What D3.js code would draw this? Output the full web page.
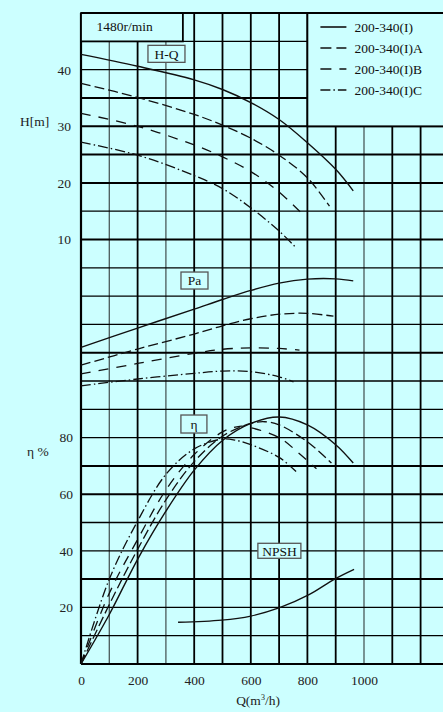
<!DOCTYPE html>
<html>
<head>
<meta charset="utf-8">
<script src="https://cdn.jsdelivr.net/npm/d3@7"></script>
<style>
  html, body { margin: 0; padding: 0; background: #ccffff; }
  svg { display: block; font-family: "Liberation Serif", "DejaVu Serif", serif; }
</style>
</head>
<body>
<div id="chart"><svg></svg></div>
<script>
// Data (Q in m3/h)
const flowTicks = [0, 200, 400, 600, 800, 1000];
const headTicks = [10, 20, 30, 40];
const effTicks = [20, 40, 60, 80];
const models = ["200-340(I)", "200-340(I)A", "200-340(I)B", "200-340(I)C"];
const speedLabel = "1480r/min";

// H-Q curves [Q, H m]
const headI = [[0, 42.7], [200, 40.6], [400, 38.2], [500, 36.5], [600, 34.2], [700, 31.2], [800, 27.1], [900, 22.4], [962, 18.6]];
const headA = [[0, 37.6], [200, 35.1], [400, 32.1], [500, 30.2], [600, 27.9], [700, 24.9], [800, 20.9], [878, 15.9]];
const headB = [[0, 32.3], [200, 30.0], [400, 26.7], [500, 24.6], [600, 22.0], [700, 18.4], [790, 14.1]];
const headC = [[0, 27.2], [200, 24.9], [400, 21.3], [500, 19.0], [600, 15.6], [700, 11.5], [755, 8.8]];

// shaft power curves [Q, Pa kW]
const powerI = [[0, 46.9], [200, 53.7], [400, 60.4], [500, 63.8], [600, 67.0], [700, 69.6], [800, 71.0], [900, 71.1], [962, 70.4]];
const powerA = [[0, 40.6], [200, 46.3], [400, 51.6], [500, 54.5], [600, 57.0], [700, 58.6], [800, 58.9], [892, 57.9]];
const powerB = [[0, 37.5], [200, 41.2], [400, 44.8], [500, 46.2], [600, 46.7], [700, 46.5], [772, 45.9]];
const powerC = [[0, 33.3], [200, 35.7], [400, 37.7], [500, 38.5], [600, 38.3], [700, 36.5], [751, 34.7]];

// efficiency curves [Q, eta %]
const effI = [[0, 0], [100, 17.5], [200, 37], [300, 54], [400, 68.5], [500, 79], [600, 85], [700, 87.3], [800, 84.5], [900, 77.5], [962, 71]];
const effA = [[0, 0], [100, 21], [200, 40.5], [300, 58], [400, 71.5], [500, 80.5], [600, 85], [650, 85.6], [700, 84.5], [800, 78.5], [885, 71]];
const effB = [[0, 0], [100, 25], [200, 44], [300, 61.5], [400, 74], [500, 82], [560, 84], [600, 83.5], [700, 80], [770, 74.5], [832, 69]];
const effC = [[0, 0], [100, 30], [200, 50.5], [300, 67], [400, 76], [500, 79.5], [550, 79], [600, 77.5], [700, 73], [760, 68]];

// NPSH curve [Q, m]
const npsh = [[343, 2.95], [497, 3.1], [600, 3.39], [702, 3.98], [804, 4.88], [896, 6.0], [965, 6.69]];

const W = 443, H = 712;
const bg = "#ccffff";
const ink = "#111";

const svg = d3.select("#chart svg")
    .attr("width", W)
    .attr("height", H);

svg.append("rect").attr("width", W).attr("height", H).attr("fill", bg);

// scales: the whole sheet is one grid of 23 rows, eta scale drives it
const x = d3.scaleLinear().domain([0, 1300]).range([81, 81 + 1300 * 0.283]);
const yEta = d3.scaleLinear().domain([0, 100]).range([664, 664 - 283]);
const yHead = d3.scaleLinear().domain([0, 50]).range([yEta(130), yEta(230)]);
const yPow = d3.scaleLinear().domain([0, 100]).range([yEta(65), yEta(165)]);
const yNpsh = d3.scaleLinear().domain([0, 20]).range([yEta(0), yEta(100)]);

// grid
const grid = svg.append("g");
const greyCols = [100, 300, 1000];
grid.selectAll(".v")
    .data(d3.range(0, 1301, 100))
    .join("line")
    .attr("x1", d => x(d)).attr("x2", d => x(d))
    .attr("y1", yEta(230)).attr("y2", yEta(0))
    .attr("stroke", d => greyCols.includes(d) ? "#4a5a5a" : "#000")
    .attr("stroke-width", d => greyCols.includes(d) ? 1.3 : 1.8);

const heavyRows = [0, 30, 60, 70, 110, 150, 170, 180, 190, 200, 230];
grid.selectAll(".h")
    .data(d3.range(0, 231, 10))
    .join("line")
    .attr("x1", x(0)).attr("x2", x(1300))
    .attr("y1", d => yEta(d)).attr("y2", d => yEta(d))
    .attr("stroke", "#000")
    .attr("stroke-width", d => heavyRows.includes(d) ? 2 : 1.3);

// left border
grid.append("line")
    .attr("x1", x(0)).attr("x2", x(0))
    .attr("y1", yEta(230)).attr("y2", yEta(0))
    .attr("stroke", "#000").attr("stroke-width", 2.2);

// speed header box
svg.append("rect")
    .attr("x", x(0)).attr("y", yEta(230))
    .attr("width", x(360) - x(0)).attr("height", yEta(220) - yEta(230))
    .attr("fill", bg).attr("stroke", "#000").attr("stroke-width", 1.8);
svg.append("text")
    .attr("x", x(55)).attr("y", 31)
    .attr("font-size", "13.5px").attr("fill", ink)
    .text(speedLabel);

// legend box
const legendX = x(800);
svg.append("rect")
    .attr("x", legendX).attr("y", yEta(230))
    .attr("width", W).attr("height", yEta(190) - yEta(230))
    .attr("fill", bg).attr("stroke", "#000").attr("stroke-width", 1.8);

const dashes = [null, "10,4", "10,8", "10,3,1.5,3"];

const legend = svg.append("g")
    .selectAll("g")
    .data(models)
    .join("g")
    .attr("transform", (d, i) => `translate(${legendX}, ${27 + i * 21})`);
legend.append("line")
    .attr("x1", 13).attr("x2", 39)
    .attr("stroke", ink).attr("stroke-width", 1.6)
    .attr("stroke-dasharray", (d, i) => i === 1 ? "11,5" : i === 2 ? "11,8" : dashes[i]);
legend.append("text")
    .attr("x", 47).attr("y", 4.5)
    .attr("font-size", "13.5px").attr("fill", ink)
    .text(d => d);

// curves
const line = (yScale) => d3.line()
    .x(d => x(d[0]))
    .y(d => yScale(d[1]))
    .curve(d3.curveCatmullRom.alpha(0.5));

const curves = svg.append("g").attr("fill", "none").attr("stroke", ink);
function drawSet(sets, yScale) {
    sets.forEach((s, i) => {
        curves.append("path")
            .attr("d", line(yScale)(s))
            .attr("stroke-width", i === 0 ? 1.4 : 1.3)
            .attr("stroke-dasharray", dashes[i]);
    });
}
drawSet([headI, headA, headB, headC], yHead);
drawSet([powerI, powerA, powerB, powerC], yPow);
drawSet([effI, effA, effB, effC], yEta);
curves.append("path").attr("d", line(yNpsh)(npsh)).attr("stroke-width", 1.3);

// curve tags
const tags = [
    { text: "H-Q", q: 302, y: yHead(42.8), w: 37, h: 17 },
    { text: "Pa", q: 401, y: yPow(70.5), w: 27, h: 17 },
    { text: "η", q: 399, y: yEta(84.8), w: 26, h: 18 },
    { text: "NPSH", q: 701, y: yNpsh(8.0), w: 43, h: 15 },
];
const tag = svg.append("g").selectAll("g").data(tags).join("g")
    .attr("transform", d => `translate(${x(d.q)}, ${d.y})`);
tag.append("rect")
    .attr("x", d => -d.w / 2).attr("y", d => -d.h / 2)
    .attr("width", d => d.w).attr("height", d => d.h)
    .attr("fill", bg).attr("stroke", "#555").attr("stroke-width", 1.3);
tag.append("text")
    .attr("text-anchor", "middle").attr("dy", "0.35em")
    .attr("font-size", "13.5px").attr("fill", ink)
    .text(d => d.text);

// axes
function tidy(g) {
    g.select(".domain").remove();
    g.selectAll("text")
        .attr("font-family", "Liberation Serif, serif")
        .attr("font-size", "13.5px")
        .attr("fill", "#222");
}
svg.append("g")
    .attr("transform", `translate(${x(0)},0)`)
    .call(d3.axisLeft(yHead).tickValues(headTicks).tickSize(0).tickPadding(10))
    .call(tidy);
svg.append("g")
    .attr("transform", `translate(${x(0)},0)`)
    .call(d3.axisLeft(yEta).tickValues(effTicks).tickSize(0).tickPadding(8))
    .call(tidy);
svg.append("g")
    .attr("transform", `translate(0,${yEta(0)})`)
    .call(d3.axisBottom(x).tickValues(flowTicks).tickFormat(d3.format("d")).tickSize(0).tickPadding(11))
    .call(tidy);

// axis titles
svg.append("text")
    .attr("x", 20).attr("y", 126)
    .attr("font-size", "13.5px").attr("fill", "#222")
    .text("H[m]");
svg.append("text")
    .attr("x", 27).attr("y", 456)
    .attr("font-size", "13.5px").attr("fill", "#222")
    .text("η %");
const qTitle = svg.append("text")
    .attr("x", 258).attr("y", 705)
    .attr("text-anchor", "middle")
    .attr("font-size", "13.5px").attr("fill", "#222");
qTitle.append("tspan").text("Q(m");
qTitle.append("tspan").attr("font-size", "8px").attr("dy", "-5").text("3");
qTitle.append("tspan").attr("dy", "5").text("/h)");
</script>
</body>
</html>
